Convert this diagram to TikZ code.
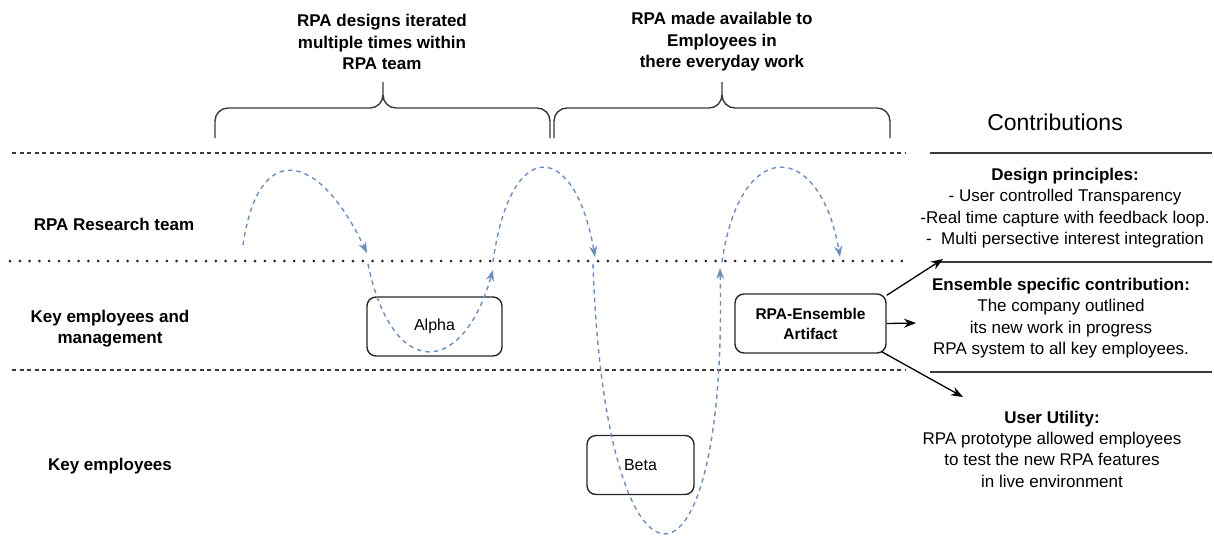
\documentclass[tikz,border=0pt]{standalone}
\usepackage{fontspec}
\setmainfont{Liberation Sans}
\usetikzlibrary{arrows.meta, positioning}

\definecolor{flowblue}{HTML}{6C8EBF}
\definecolor{rulegray}{HTML}{3A3A3A}

\begin{document}
\begin{tikzpicture}[
  x=1pt, y=-1pt,
  lanelbl/.style={font=\fontsize{17}{21}\selectfont\bfseries, align=center},
  toplbl/.style={font=\fontsize{17}{21.5}\selectfont\bfseries, align=center},
  contrib/.style={font=\fontsize{17}{21.3}\selectfont, align=center},
  stage/.style={draw=black!85, line width=1.4pt, rounded corners=9pt,
                minimum width=#1, minimum height=59pt},
  brace/.style={draw=rulegray, line width=1.4pt},
  dashsep/.style={draw=rulegray, line width=1.5pt, dash pattern=on 4pt off 3.5pt},
  dotsep/.style={draw=black!85, line width=3pt, line cap=round,
                 dash pattern=on 0pt off 9.8pt},
  solidsep/.style={draw=rulegray, line width=1.4pt},
  iter/.style={draw=flowblue, line width=1.4pt, dash pattern=on 4.5pt off 4pt,
               -{Stealth[length=11pt, width=8pt]}},
  feed/.style={draw=black, line width=1.3pt, -{Stealth[length=12pt, width=9pt]}}
]

\useasboundingbox (0,0) rectangle (1214,542);

% ── Lane separators ──────────────────────────────────────────────────────────
\draw[dashsep] (12,153) -- (905,153);
\draw[dotsep]  (10,261) -- (905,261);
\draw[dashsep] (12,370) -- (905,370);

\draw[solidsep] (930,153) -- (1212,153);
\draw[solidsep] (940,262) -- (1212,262);
\draw[solidsep] (930,372) -- (1212,372);

% ── Lane names ───────────────────────────────────────────────────────────────
\node[lanelbl] (research) at (114,224) {RPA Research team};
\node[lanelbl] (keymgmt)  at (110,329) {Key employees and\\management};
\node[lanelbl] (keyemp)   at (110,466) {Key employees};

% ── Phase braces ─────────────────────────────────────────────────────────────
\draw[brace] (215,138) -- (215,121) to[out=90, in=180] (228,108)
  -- (370,108) to[out=0, in=-90] (383,95) -- (383,82);
\draw[brace] (383,95) to[out=-90, in=180] (396,108)
  -- (537,108) to[out=0, in=90] (550,121) -- (550,138);

\draw[brace] (554,138) -- (554,121) to[out=90, in=180] (567,108)
  -- (709,108) to[out=0, in=-90] (722,95) -- (722,82);
\draw[brace] (722,95) to[out=-90, in=180] (735,108)
  -- (877,108) to[out=0, in=90] (890,121) -- (890,138);

\node[toplbl] (iterated)  at (382,42) {RPA designs iterated\\multiple times within\\RPA team};
\node[toplbl] (available) at (722,42) {RPA made available to\\Employees in\\there everyday work};

% ── Stages ───────────────────────────────────────────────────────────────────
\node[stage=135pt, font=\fontsize{16}{19}\selectfont] (alpha) at (434.5,326.5) {Alpha};
\node[stage=107pt, font=\fontsize{16}{19}\selectfont] (beta)  at (640.5,465)   {Beta};
\node[stage=151pt, font=\fontsize{15.5}{20}\selectfont\bfseries, align=center]
  (artifact) at (810.5,323.5) {RPA-Ensemble\\Artifact};

% ── Iteration loops ──────────────────────────────────────────────────────────
\coordinate (p0) at (243,245);
\coordinate (p1) at (367,253);
\coordinate (p2) at (368,264);
\coordinate (p3) at (493,270);
\coordinate (p4) at (493,262);
\coordinate (p5) at (595,257);
\coordinate (p6) at (593,264);
\coordinate (p7) at (720,268);
\coordinate (p8) at (722,262);
\coordinate (p9) at (840,257);

\draw[iter] (p0) .. controls (258,140) and (318,150) .. (p1);
\draw[iter] (p2) .. controls (392,380) and (462,378) .. (p3);
\draw[iter] (p4) .. controls (510,135) and (575,140) .. (p5);
\draw[iter] (p6) .. controls (605,622) and (728,622) .. (p7);
\draw[iter] (p8) .. controls (740,135) and (820,140) .. (p9);

% ── Contributions ────────────────────────────────────────────────────────────
\node[font=\fontsize{23}{26}\selectfont] (contribs) at (1055,122) {Contributions};

\node[contrib] (design) at (1065,208) {%
  \textbf{Design principles:}\\
  - User controlled Transparency\\
  -Real time capture with feedback loop.\\
  -\ \ Multi persective interest integration};

\node[contrib] (ensemble) at (1061,318) {%
  \textbf{Ensemble specific contribution:}\\
  The company outlined\\
  its new work in progress\\
  RPA system to all key employees.};

\node[contrib] (utility) at (1052,449) {%
  \textbf{User Utility:}\\
  RPA prototype allowed employees\\
  to test the new RPA features\\
  in live environment};

\coordinate (toDesign)   at (943,259);
\coordinate (toEnsemble) at (916,323);
\coordinate (toUtility)  at (963,397);

\draw[feed] (artifact.north east) ++(0,2) -- (toDesign);
\draw[feed] (artifact.east) -- (toEnsemble);
\draw[feed] (artifact.south east) ++(-5,-2) -- (toUtility);

\end{tikzpicture}
\end{document}
